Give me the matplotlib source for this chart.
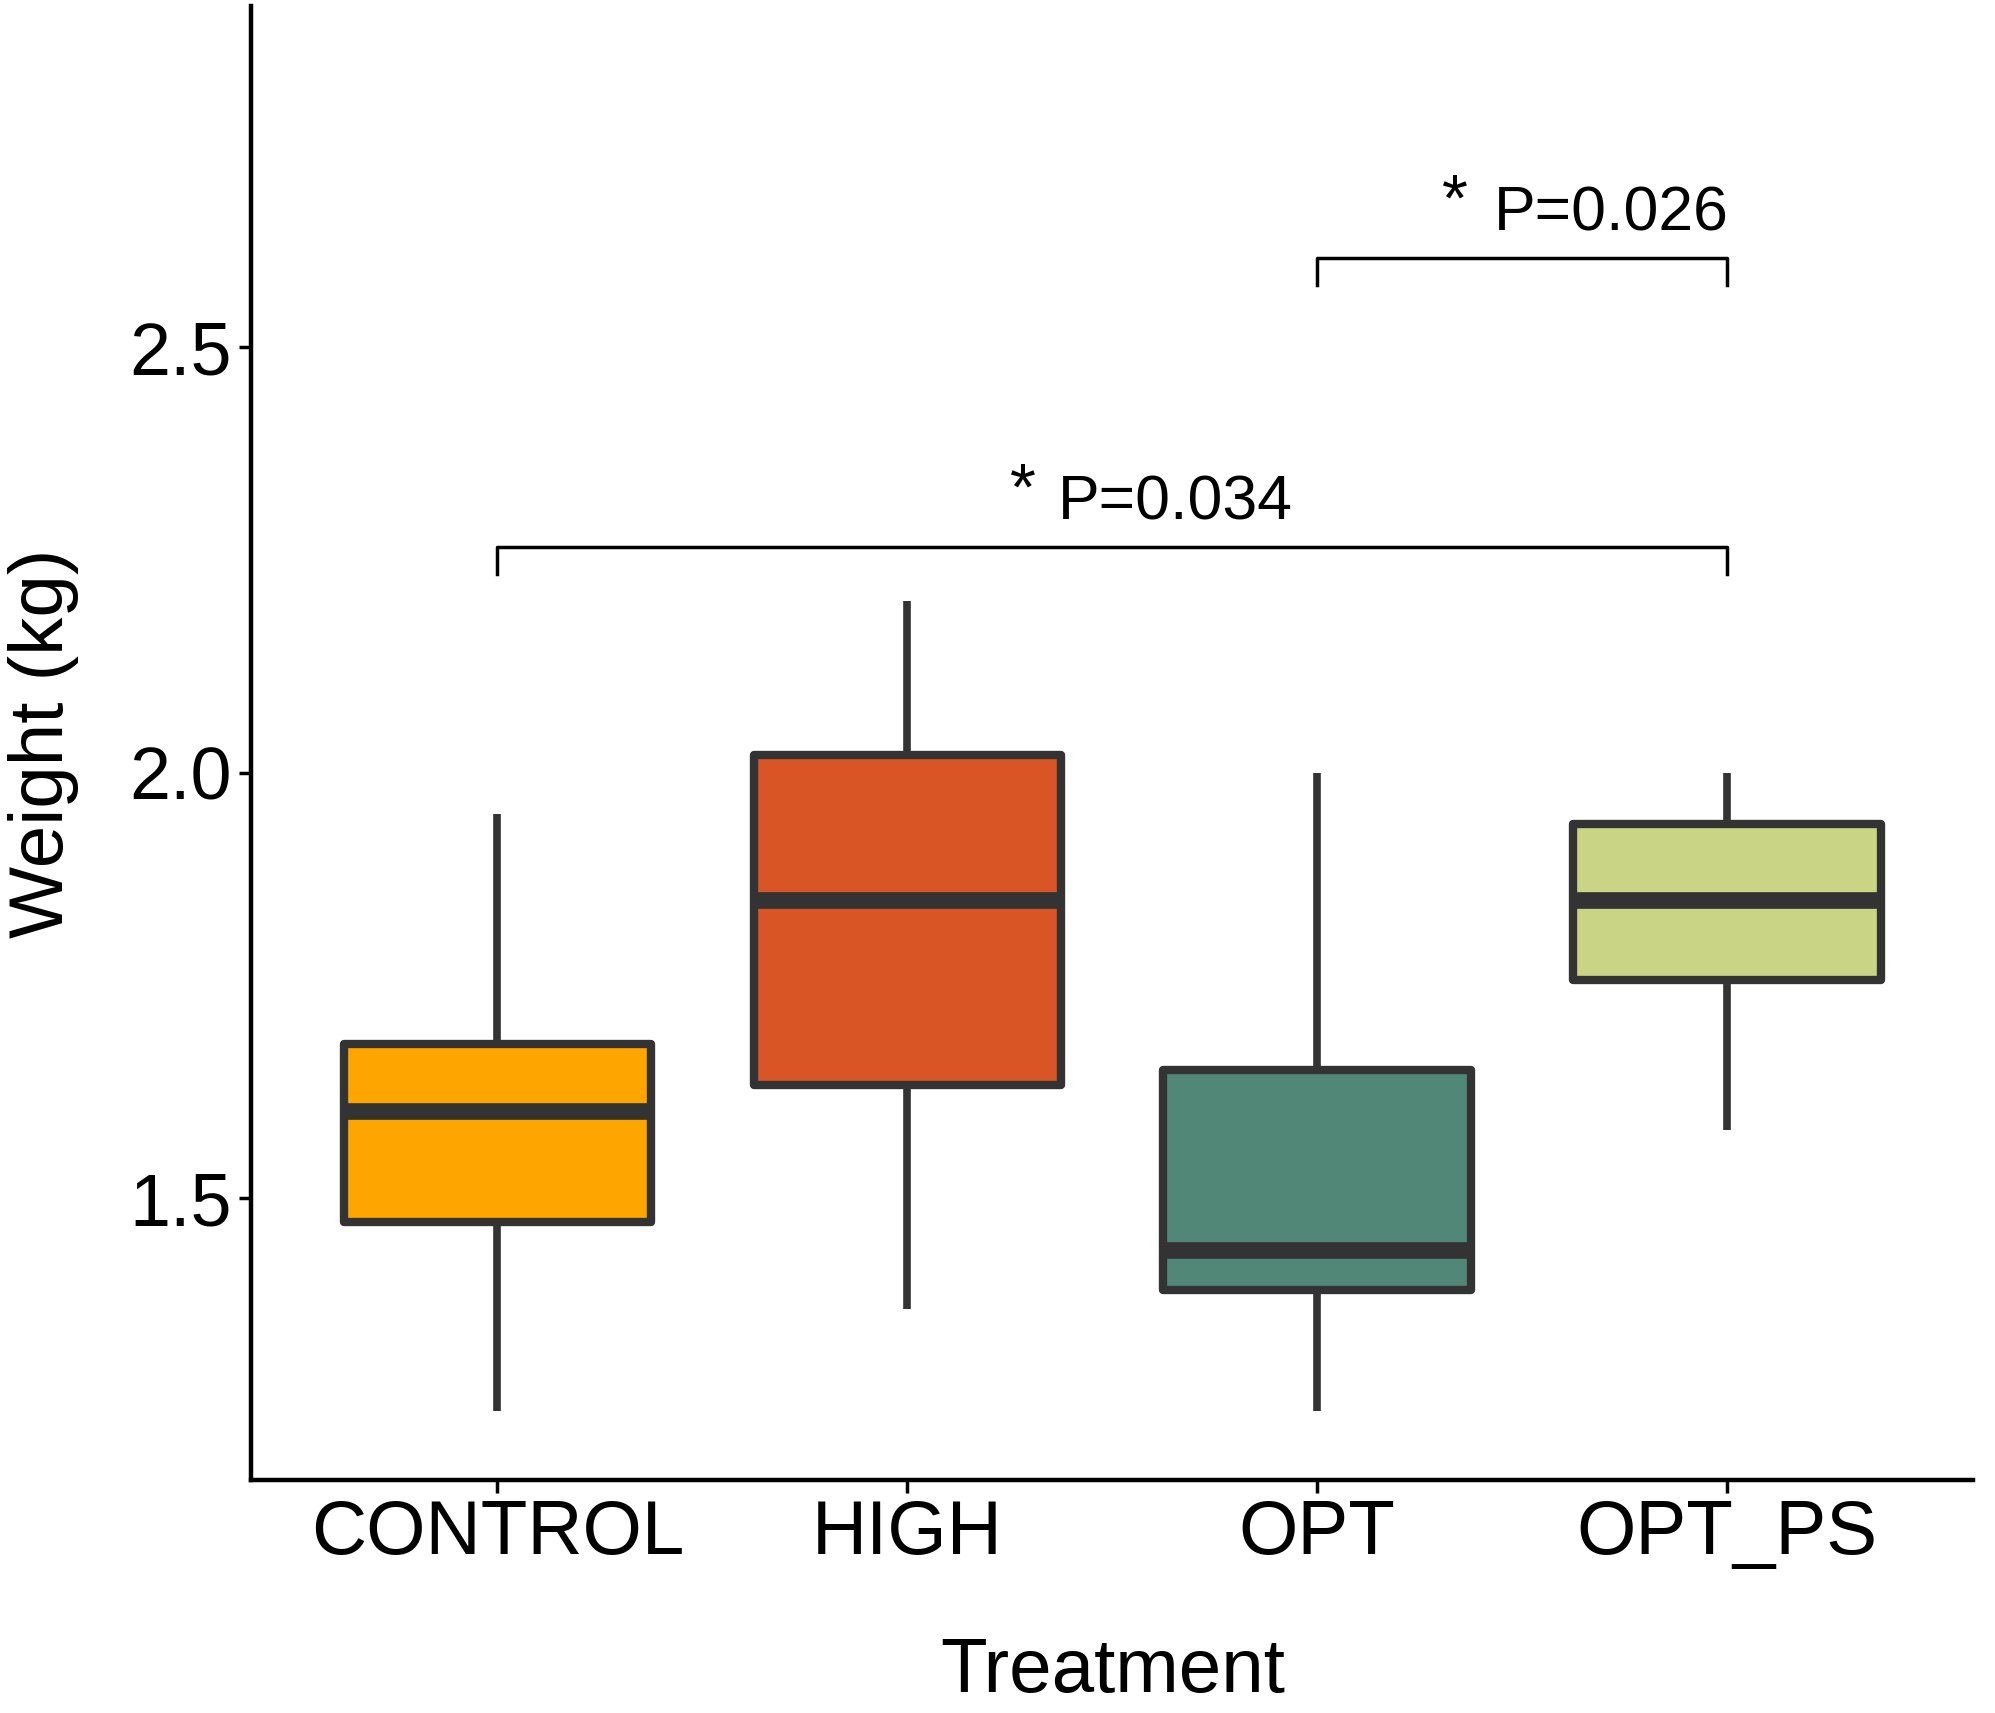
import matplotlib
matplotlib.use("Agg")
import matplotlib.pyplot as plt

plt.rcParams["font.family"] = ["Liberation Sans", "DejaVu Sans"]

# --- data ---
treatments = ["CONTROL", "HIGH", "OPT", "OPT_PS"]
whisker_low = [1.25, 1.37, 1.25, 1.58]
q1 = [1.472, 1.633, 1.392, 1.756]
median = [1.602, 1.850, 1.439, 1.850]
q3 = [1.681, 2.021, 1.650, 1.940]
whisker_high = [1.951, 2.202, 2.000, 2.000]
box_colours = ["#FFA500", "#D95525", "#518776", "#C9D585"]

# significance brackets: (from group, to group, height, label)
brackets = [
    ("CONTROL", "OPT_PS", 2.265, "P=0.034"),
    ("OPT", "OPT_PS", 2.605, "P=0.026"),
]
# where the text sits relative to the bracket middle (data units)
label_shift = [0.155, 0.217]
star_shift = [-0.217, -0.164]

EDGE = "#333333"

fig = plt.figure(figsize=(19.95, 17.13), dpi=100)
ax = fig.add_axes([0.126, 0.1362, 0.863, 0.8603])

stats = []
for i, name in enumerate(treatments):
    stats.append(dict(label=name, whislo=whisker_low[i], q1=q1[i], med=median[i],
                      q3=q3[i], whishi=whisker_high[i], fliers=[]))

positions = range(1, len(treatments) + 1)
bp = ax.bxp(stats, positions=positions, widths=0.75, patch_artist=True,
            showcaps=False,
            boxprops=dict(edgecolor=EDGE, linewidth=6, joinstyle="round"),
            medianprops=dict(color=EDGE, linewidth=12, solid_capstyle="butt"),
            whiskerprops=dict(color=EDGE, linewidth=5.5, solid_capstyle="butt"))
for patch, colour in zip(bp["boxes"], box_colours):
    patch.set_facecolor(colour)

# brackets
for k, (start, end, h, label) in enumerate(brackets):
    x0 = treatments.index(start) + 1
    x1 = treatments.index(end) + 1
    tip = 0.032
    ax.plot([x0, x0, x1, x1], [h - tip, h, h, h - tip], color="black", lw=2.5)
    xm = (x0 + x1) / 2
    ax.text(xm + label_shift[k], h + 0.052, label, ha="center", va="center",
            fontsize=45)
    ax.text(xm + star_shift[k], h + 0.064, "*", ha="center", va="center",
            fontsize=48)

ax.set_xlim(0.4, 4.6)
ax.set_ylim(1.169, 2.901)
ax.set_yticks([1.5, 2.0, 2.5])
ax.set_yticklabels(["1.5", "2.0", "2.5"])
ax.set_xticks(list(positions))
ax.set_xticklabels(treatments)

for side in ["top", "right"]:
    ax.spines[side].set_visible(False)
for side in ["left", "bottom"]:
    ax.spines[side].set_linewidth(3.2)
    ax.spines[side].set_color("black")

ax.tick_params(axis="both", width=2.5, length=9, color="black", pad=5)
ax.tick_params(axis="y", labelsize=53)
ax.tick_params(axis="x", labelsize=55)
ax.set_xlabel("Treatment", fontsize=55, labelpad=48)
ax.set_ylabel("Weight (kg)", fontsize=55, labelpad=36)

fig.savefig("out.png", dpi=100)
